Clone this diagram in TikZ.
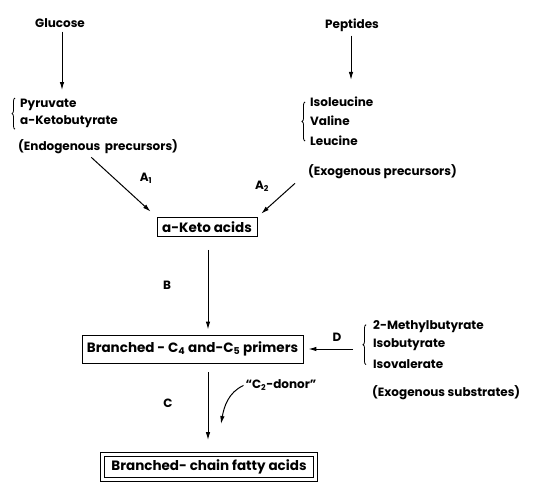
\documentclass[tikz,border=0pt]{standalone}
\usepackage{fontspec}
\setmainfont{Poppins}
\usetikzlibrary{arrows.meta,decorations.pathreplacing}

\tikzset{
  txt/.style={font=\fontsize{12}{14}\selectfont\bfseries, inner sep=1pt},
  boxed/.style={draw, line width=0.9pt, inner sep=2pt, font=\fontsize{13.5}{15}\selectfont\bfseries},
  flow/.style={-{Latex[length=8pt,width=4.5pt]}, line width=1pt},
  brc/.style={decorate, decoration={brace, amplitude=3pt}, line width=0.8pt},
}

\begin{document}
\begin{tikzpicture}[x=1pt,y=-1pt]
    \useasboundingbox (0,0) rectangle (545,482);

    \node[txt] (glucose) at (60,23) {Glucose};
    \node[txt] (peptides) at (352,25) {Peptides};

    \node[txt, anchor=west] (pyruvate) at (19,105) {Pyruvate};
    \node[txt, anchor=west] (ketobut) at (19,122) {a-Ketobutyrate};
    \node[txt, anchor=west] (endo) at (17,147) {(Endogenous\, precursors)};

    \node[txt, anchor=west] (ile) at (309,102) {Isoleucine};
    \node[txt, anchor=west] (val) at (309,121) {Valine};
    \node[txt, anchor=west] (leu) at (309,141) {Leucine};
    \node[txt, anchor=west] (exo) at (307,172) {(Exogenous precursors)};

    \node[boxed, minimum width=100pt, minimum height=19pt] (keto) at (207,227) {a-Keto acids};
    \node[boxed, minimum width=221pt, minimum height=28pt] (primers) at (192.5,349) {Branched - C\textsubscript{4} and-C\textsubscript{5} primers};
    \node[boxed, double, double distance=3pt, line width=0.8pt, minimum width=213pt, minimum height=25pt] (fatty) at (209,467) {Branched- chain fatty acids};

    \node[txt, anchor=west] (methyl) at (372,327) {2-Methylbutyrate};
    \node[txt, anchor=west] (isobut) at (372,345) {Isobutyrate};
    \node[txt, anchor=west] (isoval) at (372,364) {Isovalerate};
    \node[txt, anchor=west] (subst) at (371,393) {(Exogenous substrates)};

    \node[txt] (donor) at (281,385) {``C\textsubscript{2}-donor''};
    \coordinate (cjoin) at (221,424);

    \node[txt] (a1) at (146,178) {A\textsubscript{1}};
    \node[txt] (a2) at (262,186) {A\textsubscript{2}};
    \node[txt] (b) at (167,285) {B};
    \node[txt] (c) at (168,403) {C};
    \node[txt] (d) at (337,337) {D};

    \draw[brc] ([xshift=-4pt]ketobut.south west) -- ([xshift=-4pt]pyruvate.north west);
    \draw[brc] ([shift={(-4pt,6pt)}]leu.south west) -- ([shift={(-4pt,-6pt)}]ile.north west);
    \draw[brc] ([shift={(-6pt,5pt)}]isoval.south west) -- ([shift={(-6pt,-5pt)}]methyl.north west);

    \draw[flow, shorten <=3pt, shorten >=8pt] ([xshift=2pt]glucose.south) -- ([xshift=2pt]glucose.south |- pyruvate.north);
    \draw[flow, shorten <=3pt, shorten >=16pt] ([xshift=-1pt]peptides.south) -- ([xshift=-1pt]peptides.south |- ile.north);
    \draw[flow, shorten <=3pt, shorten >=8pt] ([xshift=-9pt]endo.south) -- (keto.north west);
    \draw[flow, shorten >=5pt] ([shift={(-12pt,-3pt)}]exo.south west) -- (keto.north east);
    \draw[flow, shorten <=13pt, shorten >=5pt] ([xshift=1pt]keto.south) -- ([xshift=1pt]keto.south |- primers.north);
    \draw[flow, shorten <=9pt, shorten >=14pt] ([xshift=1pt]keto.south |- primers.south) -- ([xshift=1pt]keto.south |- fatty.north);
    \draw[flow, shorten <=19pt, shorten >=5pt] (isobut.west |- primers.east) -- (primers.east);
    \draw[flow, shorten <=1pt] (donor.west) to[out=205,in=80] (cjoin);
\end{tikzpicture}
\end{document}
